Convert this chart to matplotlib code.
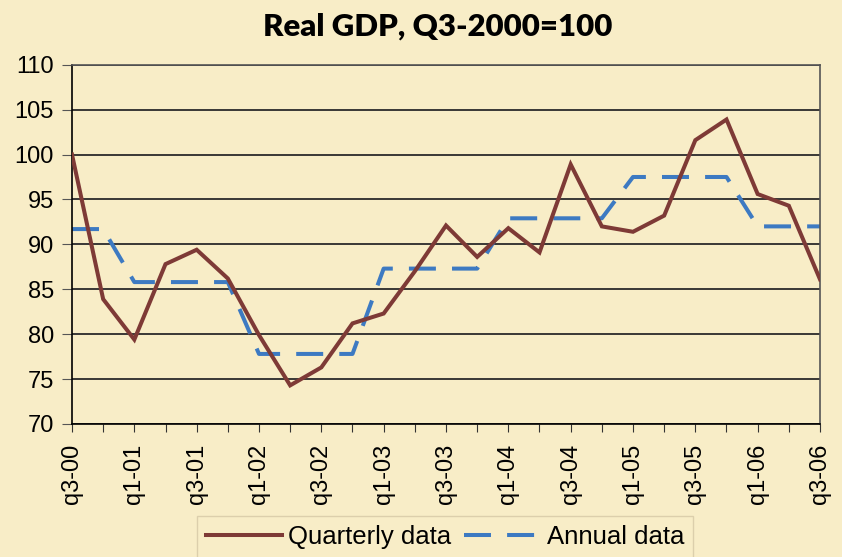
import matplotlib
matplotlib.use("Agg")
import matplotlib.pyplot as plt

quarters = ["q3-00", "q4-00", "q1-01", "q2-01", "q3-01", "q4-01", "q1-02", "q2-02",
            "q3-02", "q4-02", "q1-03", "q2-03", "q3-03", "q4-03", "q1-04", "q2-04",
            "q3-04", "q4-04", "q1-05", "q2-05", "q3-05", "q4-05", "q1-06", "q2-06", "q3-06"]
quarterly = [100.0, 83.9, 79.4, 87.8, 89.4, 86.2, 79.9, 74.3, 76.3, 81.2, 82.3, 87.0,
             92.1, 88.6, 91.8, 89.1, 98.9, 92.0, 91.4, 93.2, 101.6, 103.9, 95.6, 94.3, 86.1]
annual = [91.7, 91.7, 85.8, 85.8, 85.8, 85.8, 77.8, 77.8, 77.8, 77.8, 87.3, 87.3,
          87.3, 87.3, 92.9, 92.9, 92.9, 92.9, 97.5, 97.5, 97.5, 97.5, 92.0, 92.0, 92.0]
yticks = [70, 75, 80, 85, 90, 95, 100, 105, 110]
title = "Real GDP, Q3-2000=100"

bg = "#F8EDC7"
fig = plt.figure(figsize=(8.42, 5.57), dpi=100, facecolor=bg)
ax = fig.add_axes([72/842, 1-424/557, (820-72)/842, (424-64.7)/557])
ax.set_facecolor(bg)

x = list(range(len(quarters)))
ax.plot(x, quarterly, color="#7E3A36", lw=2.9, label="Quarterly data",
        solid_joinstyle="miter", zorder=3)
ax.plot(x, annual, color="#3D7AC2", lw=2.9, dashes=(6.7, 4.0),
        label="Annual data", zorder=2)

ax.set_xlim(0, len(quarters)-1)
ax.set_ylim(70, 110)
ax.set_yticks(yticks)
ax.set_yticklabels([str(v) for v in yticks], fontsize=17, family="Liberation Sans")
ax.set_xticks(x)
ax.set_xticklabels([q if i % 2 == 0 else "" for i, q in enumerate(quarters)],
                   rotation=90, fontsize=17, family="Liberation Sans")
ax.tick_params(axis="y", length=7, color="#555555", pad=6)
ax.tick_params(axis="x", length=6, color="#333333", pad=8)
ax.grid(axis="y", color="#2a2a2a", lw=1.3)
ax.set_axisbelow(True)
for s in ["left", "bottom"]:
    ax.spines[s].set_color("black")
    ax.spines[s].set_linewidth(1.2)
for s in ["top", "right"]:
    ax.spines[s].set_color("#555555")
    ax.spines[s].set_linewidth(1.2)

fig.text(438/842, 1-27/557, title, ha="center", va="center", fontsize=22.4,
         fontweight="heavy", family="Lato")

leg = fig.legend(loc="upper center", bbox_to_anchor=(445/842, 1-516/557), ncol=2,
                 prop={"family": "Liberation Sans", "size": 18.5},
                 handlelength=2.95, handletextpad=0.25, columnspacing=0.5,
                 borderpad=0.35, borderaxespad=0, frameon=True, fancybox=False)
leg.get_frame().set_facecolor(bg)
leg.get_frame().set_edgecolor("#D5C8A6")
leg.get_frame().set_linewidth(1.0)

fig.savefig("out.png", dpi=100, facecolor=bg)
